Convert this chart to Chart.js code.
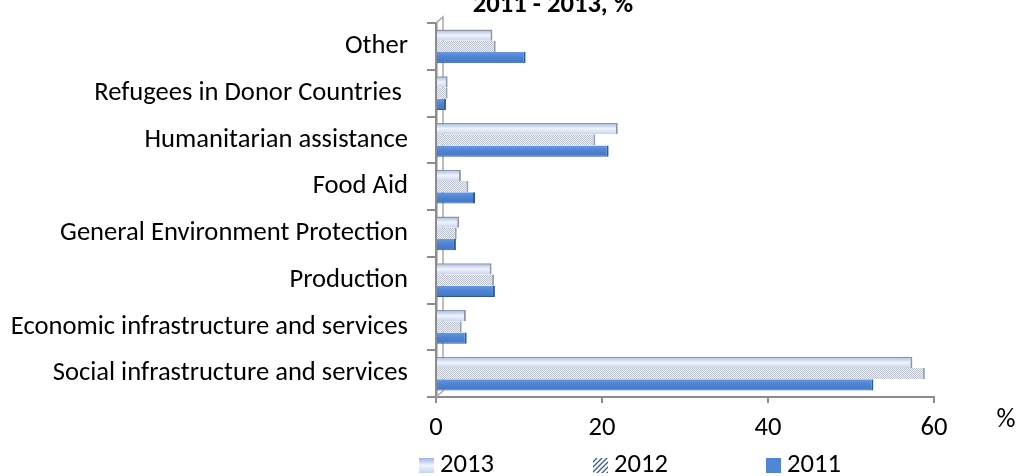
<!DOCTYPE html>
<html><head><meta charset="utf-8">
<script src="https://cdn.jsdelivr.net/npm/chart.js@4.4.1/dist/chart.umd.min.js"></script>
<style>html,body{margin:0;padding:0;background:#fff;overflow:hidden}#wrap{position:relative;width:1019px;height:476px}</style>
</head><body><div id="wrap"><canvas id="c" width="1019" height="476"></canvas></div>
<script>
const categories = ['Other','Refugees in Donor Countries ','Humanitarian assistance','Food Aid','General Environment Protection','Production','Economic infrastructure and services','Social infrastructure and services'];
const seriesNames = ['2013','2012','2011'];
const values2013 = [6.8, 1.4, 21.9, 3.0, 2.8, 6.7, 3.6, 57.4];
const values2012 = [7.2, 1.4, 19.2, 3.9, 2.5, 7.0, 3.1, 58.9];
const values2011 = [10.8, 1.2, 20.8, 4.7, 2.4, 7.1, 3.7, 52.7];
const xTickValues = [0, 20, 40, 60];
const titleText = '2011 - 2013, %';
const unitText = '%';

const FAMILY = 'Carlito, Calibri, Lato, sans-serif';
const canvas = document.getElementById('c');
const g = canvas.getContext('2d');
g.font = '100px ' + FAMILY;
const FS = Math.round(100 * 355 / g.measureText('Social infrastructure and services').width * 10) / 10;

function dotPattern() {
  const p = document.createElement('canvas');
  p.width = 2; p.height = 2;
  const c = p.getContext('2d');
  c.fillStyle = '#eef0f4'; c.fillRect(0, 0, 2, 2);
  c.fillStyle = '#bcc3ce'; c.fillRect(0, 0, 1, 1); c.fillRect(1, 1, 1, 1);
  return g.createPattern(p, 'repeat');
}
function hatchPattern(bg, fg, step, lw) {
  const p = document.createElement('canvas');
  p.width = step; p.height = step;
  const c = p.getContext('2d');
  c.fillStyle = bg; c.fillRect(0, 0, step, step);
  c.strokeStyle = fg; c.lineWidth = lw;
  c.beginPath();
  c.moveTo(-1, step + 1); c.lineTo(step + 1, -1);
  c.moveTo(-1, 1); c.lineTo(1, -1);
  c.moveTo(step - 1, step + 1); c.lineTo(step + 1, step - 1);
  c.stroke();
  return g.createPattern(p, 'repeat');
}
const barDots = dotPattern();
const legendHatch = hatchPattern('#ffffff', '#3b5b96', 5, 1.3);

function grad2013(top, h) {
  const gr = g.createLinearGradient(0, top, 0, top + h);
  gr.addColorStop(0, '#9db6e4');
  gr.addColorStop(0.5, '#f1f4fb');
  gr.addColorStop(1, '#c6d4ef');
  return gr;
}
function grad2011(top, h) {
  const gr = g.createLinearGradient(0, top, 0, top + h);
  gr.addColorStop(0, '#6a98de');
  gr.addColorStop(0.4, '#4f85d5');
  gr.addColorStop(1, '#4277c6');
  return gr;
}

const styler = {
  id: 'styler',
  beforeDatasetDraw(chart, args) {
    args.meta.data.forEach(el => {
      const h = el.height, top = el.y - h / 2;
      if (args.index === 0) el.options = Object.assign({}, el.options, {backgroundColor: grad2013(top, h)});
      if (args.index === 2) el.options = Object.assign({}, el.options, {backgroundColor: grad2011(top, h)});
    });
  }
};

const decor = {
  id: 'decor',
  beforeDatasetsDraw(chart) {
    const ctx = chart.ctx, a = chart.chartArea;
    ctx.save();
    ctx.strokeStyle = '#a8a8a8'; ctx.lineWidth = 1.5;
    ctx.beginPath();
    ctx.moveTo(a.left, a.top); ctx.lineTo(a.left + 7, a.top - 6);
    ctx.lineTo(a.left + 7, a.bottom - 6);
    ctx.moveTo(a.left, a.bottom); ctx.lineTo(a.left + 7, a.bottom - 6);
    ctx.stroke();
    ctx.restore();
  },
  afterDraw(chart) {
    const ctx = chart.ctx;
    ctx.save();
    ctx.fillStyle = '#000';
    ctx.font = 'bold ' + FS + 'px ' + FAMILY;
    ctx.textAlign = 'center'; ctx.textBaseline = 'alphabetic';
    ctx.fillText(titleText, 553, 12);
    ctx.font = FS + 'px ' + FAMILY;
    ctx.textBaseline = 'middle';
    ctx.fillText(unitText, 1006, 420);
    const boxX = [419, 593, 766];
    const fills = [grad2013(458, 15), legendHatch, '#4f86d6'];
    ctx.textAlign = 'left';
    chart.data.datasets.forEach((ds, i) => {
      ctx.fillStyle = fills[i];
      ctx.fillRect(boxX[i], 458, 15, 15);
      ctx.fillStyle = '#000';
      ctx.fillText(ds.label, boxX[i] + 21, 465);
    });
    ctx.restore();
  }
};

const font = {family: FAMILY, size: FS};
new Chart(canvas, {
  type: 'bar',
  data: {
    labels: categories,
    datasets: [
      {label: seriesNames[0], data: values2013, backgroundColor: '#d6e0f4', borderColor: '#8c96a8', borderWidth: {top: 1.5, right: 2, bottom: 0, left: 0}, borderSkipped: false},
      {label: seriesNames[1], data: values2012, backgroundColor: barDots, borderColor: '#98a0ac', borderWidth: {top: 0, right: 2, bottom: 0, left: 0}, borderSkipped: false},
      {label: seriesNames[2], data: values2011, backgroundColor: '#4f86d6', borderColor: '#2f5a9a', borderWidth: {top: 0, right: 2, bottom: 1, left: 0}, borderSkipped: false}
    ]
  },
  options: {
    indexAxis: 'y',
    responsive: false,
    animation: false,
    devicePixelRatio: 1,
    layout: {padding: {top: 23, right: 85, bottom: 34, left: 0}},
    datasets: {bar: {categoryPercentage: 0.72, barPercentage: 1}},
    plugins: {legend: {display: false}, title: {display: false}, tooltip: {enabled: false}},
    scales: {
      x: {
        min: 0, max: 60,
        afterBuildTicks: s => { s.ticks = xTickValues.map(v => ({value: v})); },
        grid: {drawOnChartArea: false, color: '#8c8c8c', tickLength: 6, lineWidth: 2},
        border: {color: '#8c8c8c', width: 2},
        ticks: {font, color: '#000', padding: 9},
        afterFit: s => { s.height = 45; s.paddingLeft = 0; s.paddingRight = 0; }
      },
      y: {
        grid: {drawOnChartArea: false, color: '#8c8c8c', tickLength: 9, lineWidth: 2, offset: true},
        border: {color: '#8c8c8c', width: 2.5},
        ticks: {font, color: '#000', padding: 19, autoSkip: false},
        afterFit: s => { s.width = 436; s.paddingTop = 0; s.paddingBottom = 0; }
      }
    }
  },
  plugins: [styler, decor]
});
</script></body></html>
